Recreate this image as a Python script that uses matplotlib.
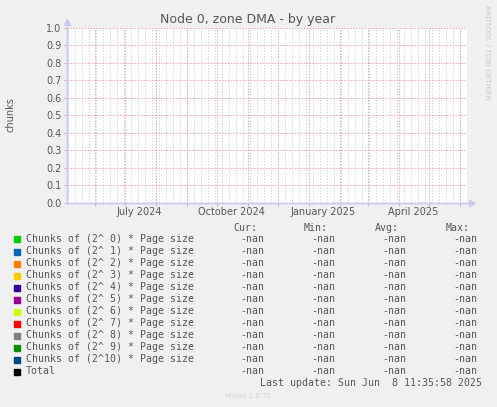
import datetime as dt
import numpy as np
import matplotlib
matplotlib.use("Agg")
import matplotlib.pyplot as plt
import matplotlib.dates as mdates

# --- data (all series empty: rrd returned nan) ---
series_names = ["Chunks of (2^ 0) * Page size", "Chunks of (2^ 1) * Page size",
                "Chunks of (2^ 2) * Page size", "Chunks of (2^ 3) * Page size",
                "Chunks of (2^ 4) * Page size", "Chunks of (2^ 5) * Page size",
                "Chunks of (2^ 6) * Page size", "Chunks of (2^ 7) * Page size",
                "Chunks of (2^ 8) * Page size", "Chunks of (2^ 9) * Page size",
                "Chunks of (2^10) * Page size", "Total"]
series_colors = ["#00CC00", "#0066B3", "#FF8000", "#FFCC00", "#330099", "#990099",
                 "#CCFF00", "#FF0000", "#808080", "#008F00", "#00487D", "#000000"]
cur_vals = ["-nan"] * 12
min_vals = ["-nan"] * 12
avg_vals = ["-nan"] * 12
max_vals = ["-nan"] * 12
series_values = [np.nan, np.nan]

end_time = dt.datetime(2025, 6, 8, 11, 35, 58)
start_time = end_time - dt.timedelta(days=400)
label_months = [dt.datetime(2024, 7, 1), dt.datetime(2024, 10, 1),
                dt.datetime(2025, 1, 1), dt.datetime(2025, 4, 1)]
label_texts = ["July 2024", "October 2024", "January 2025", "April 2025"]
yticks = [0.0, 0.1, 0.2, 0.3, 0.4, 0.5, 0.6, 0.7, 0.8, 0.9, 1.0]

W, H = 497, 407
BG = "#F0F0F0"
TXT = "#555555"
AXC = "#C8C8F0"
MONO = "DejaVu Sans Mono"
DOTS = (0, (1.5, 1.5))

fig = plt.figure(figsize=(W / 100, H / 100), dpi=100, facecolor=BG)
ax = fig.add_axes([67 / W, (H - 203) / H, 400 / W, 175 / H])
ax.set_facecolor("white")

for name, col in zip(series_names, series_colors):
    ax.plot([start_time, end_time], series_values, color=col, lw=1)

ax.set_xlim(start_time, end_time)
ax.set_ylim(0, 1)

# grid: gray weekly (sunday) lines, red month lines, red horizontal
for d in mdates.WeekdayLocator(byweekday=mdates.SU).tick_values(start_time, end_time):
    ax.axvline(d, color="#D4D4D4", lw=0.7, ls=DOTS, zorder=1)
months = mdates.MonthLocator().tick_values(start_time, end_time)
for d in months:
    ax.axvline(d, color="#E8A8A8", lw=0.7, ls=DOTS, zorder=2)
for v in yticks[1:]:
    ax.axhline(v, color="#E8A8A8", lw=0.7, ls=DOTS, zorder=2)

ax.set_yticks(yticks)
ax.set_yticklabels([f"{v:.1f}" for v in yticks], fontsize=7, color=TXT)
ax.set_xticks(months)
ax.set_xticklabels([])
ax.tick_params(axis="x", length=2, width=0.8, color="#E8A8A8")
ax.tick_params(axis="y", length=2, width=0.8, color="#E8A8A8", pad=2)

label_pos = [m + dt.timedelta(days=15) for m in label_months]
for p, t in zip(label_pos, label_texts):
    ax.text(p, -0.025, t, transform=ax.get_xaxis_transform(), ha="center", va="top",
            fontsize=7, color=TXT)

for s in ["top", "right"]:
    ax.spines[s].set_visible(False)
for s in ["left", "bottom"]:
    ax.spines[s].set_color(AXC)
    ax.spines[s].set_linewidth(1)
ax.plot([0, 0], [0, 1.035], color=AXC, lw=1, transform=ax.transAxes, clip_on=False)
ax.plot([0, 1.012], [0, 0], color=AXC, lw=1, transform=ax.transAxes, clip_on=False)
ax.plot([0], [1.035], marker="^", ms=4, color=AXC, transform=ax.transAxes, clip_on=False)
ax.plot([1.012], [0], marker=">", ms=4, color=AXC, transform=ax.transAxes, clip_on=False)

fig.text(248 / W, 1 - 19 / H, "Node 0, zone DMA - by year", ha="center", va="center",
         fontsize=9, color=TXT)
fig.text(10 / W, 1 - 115 / H, "chunks", rotation=90, ha="center", va="center",
         fontsize=7, color=TXT)
fig.text(487 / W, 1 - 5 / H, "RRDTOOL / TOBI OETIKER", rotation=270, ha="center",
         va="top", fontsize=5.3, color="#C8C8C8")

# legend table
fs = 7.15
fig.text(257 / W, 1 - 228 / H, "Cur:", ha="right", va="center", fontsize=fs,
         family=MONO, color=TXT)
fig.text(328 / W, 1 - 228 / H, "Min:", ha="right", va="center", fontsize=fs,
         family=MONO, color=TXT)
fig.text(399 / W, 1 - 228 / H, "Avg:", ha="right", va="center", fontsize=fs,
         family=MONO, color=TXT)
fig.text(470 / W, 1 - 228 / H, "Max:", ha="right", va="center", fontsize=fs,
         family=MONO, color=TXT)
for i, (name, col) in enumerate(zip(series_names, series_colors)):
    y = 1 - (239.5 + 12 * i) / H
    fig.patches.append(plt.Rectangle((14 / W, y - 3 / H), 6 / W, 6 / H,
                                     transform=fig.transFigure, color=col))
    fig.text(26 / W, y, name, ha="left", va="center", fontsize=fs, family=MONO, color=TXT)
    fig.text(264 / W, y, cur_vals[i], ha="right", va="center", fontsize=fs, family=MONO, color=TXT)
    fig.text(335 / W, y, min_vals[i], ha="right", va="center", fontsize=fs, family=MONO, color=TXT)
    fig.text(406 / W, y, avg_vals[i], ha="right", va="center", fontsize=fs, family=MONO, color=TXT)
    fig.text(477 / W, y, max_vals[i], ha="right", va="center", fontsize=fs, family=MONO, color=TXT)

fig.text(482 / W, 1 - 383 / H, "Last update: Sun Jun  8 11:35:58 2025", ha="right",
         va="center", fontsize=fs, family=MONO, color=TXT)
fig.text(248 / W, 1 - 396 / H, "Munin 2.0.76", ha="center", va="center", fontsize=5,
         color="#D0D0D0")

fig.savefig("out.png", dpi=100, facecolor=BG)
